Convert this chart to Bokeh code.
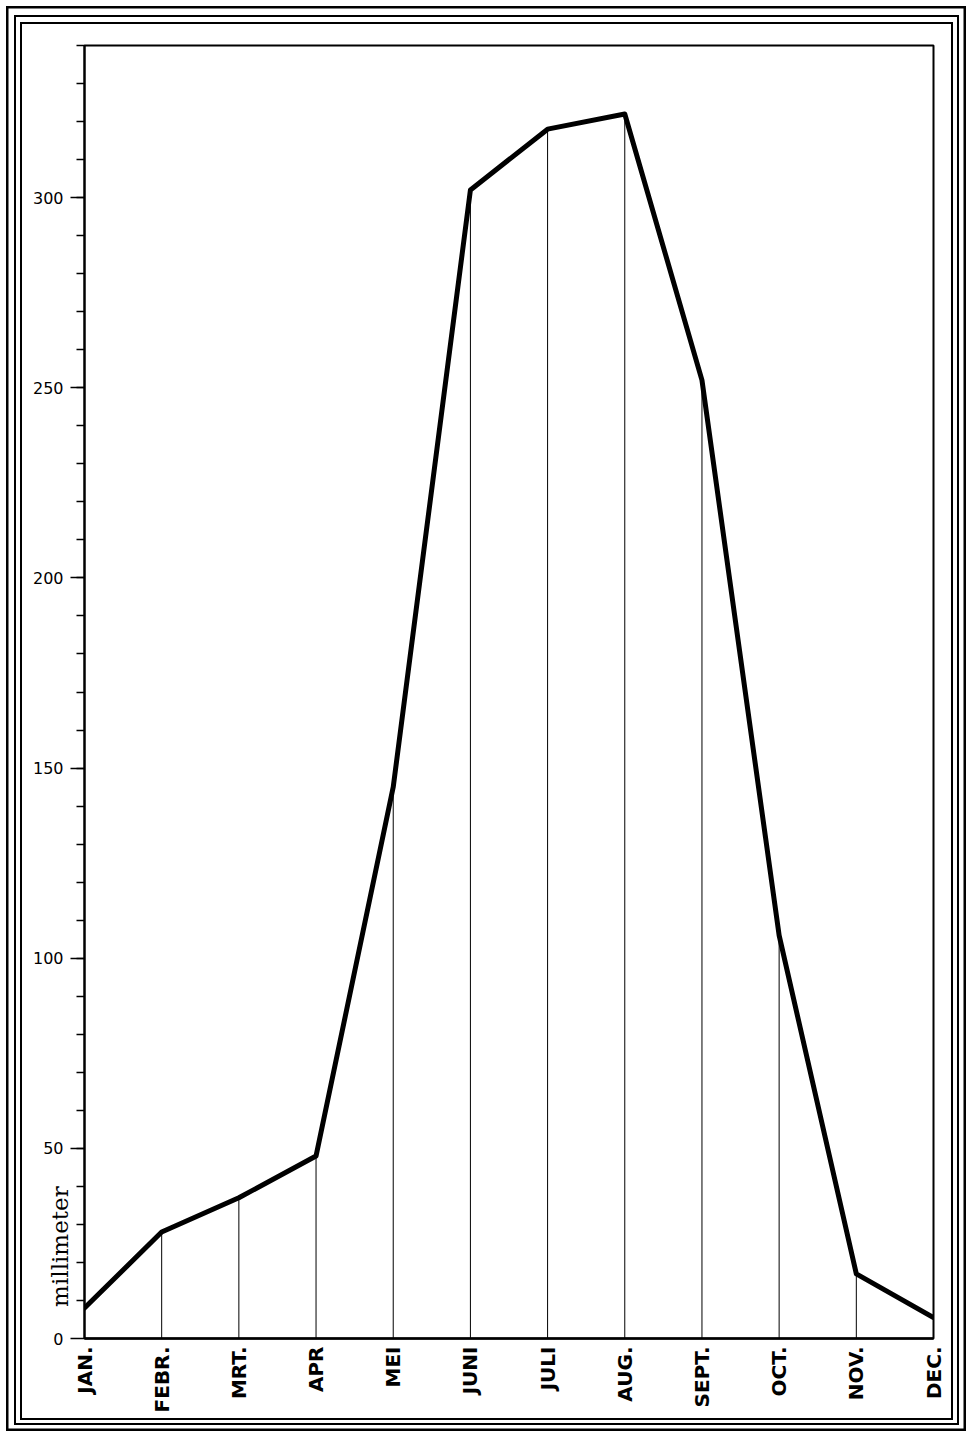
import math
from bokeh.plotting import figure
from bokeh.models import Range1d, FixedTicker, LinearAxis, ColumnDataSource
from bokeh.embed import file_html
from bokeh.resources import INLINE

months = ["JAN.", "FEBR.", "MRT.", "APR", "MEI", "JUNI", "JULI", "AUG.", "SEPT.", "OCT.", "NOV.", "DEC."]
rain_mm = [8, 28, 37, 48, 145, 302, 318, 322, 252, 106, 17, 5.5]
y_major = [0, 50, 100, 150, 200, 250, 300]
y_minor = list(range(10, 341, 10))
unit_label = "millimeter"
unit_label_at = 40

xs = list(range(len(months)))
src = ColumnDataSource(dict(x=xs, y=rain_mm, y0=[0] * len(xs)))

p = figure(frame_width=849, frame_height=1293,
           min_border_left=84, min_border_right=34, min_border_top=45, min_border_bottom=94,
           x_range=Range1d(0, 11), y_range=Range1d(0, 340),
           output_backend="svg", toolbar_location=None, tools="")
p.background_fill_color = "white"
p.border_fill_color = None
p.outline_line_color = "black"
p.outline_line_width = 2
p.xgrid.visible = False
p.ygrid.visible = False

# decorative triple frame around the page (CSS inset shadows on the figure element)
p.styles = {
    "background-color": "white",
    "box-shadow": ("inset 2.5px 2.5px 0 3.5px white, inset 2.5px 2.5px 0 6px black, "
                   "inset 3px 4px 0 11px white, inset 3px 4px 0 13px black, "
                   "inset 3px 5px 0 17px white, inset 3px 5px 0 19px black"),
}

# thin vertical lines from baseline to each month's value
p.segment(x0="x", y0="y0", x1="x", y1="y", source=src, line_color="black", line_width=1)
# main rainfall line
p.line(x="x", y="y", source=src, line_color="black", line_width=5, line_join="round", line_cap="round")

# y axis
ya = p.yaxis[0]
ya.ticker = FixedTicker(ticks=y_major, minor_ticks=y_minor)
ya.major_tick_out = 14
ya.major_tick_in = 0
ya.minor_tick_out = 8
ya.minor_tick_in = 0
ya.major_tick_line_width = 1.5
ya.minor_tick_line_width = 1.5
ya.axis_line_width = 2
ya.major_label_standoff = 7
ya.major_label_text_font = "DejaVu Sans"
ya.major_label_text_font_size = "16px"
ya.major_label_text_color = "black"

# unit label as a second, tickless axis, pulled in next to the main axis
ua = LinearAxis(ticker=FixedTicker(ticks=[unit_label_at], minor_ticks=[]),
                major_label_overrides={unit_label_at: unit_label},
                major_label_orientation=math.pi / 2)
ua.axis_line_color = None
ua.major_tick_line_color = None
ua.minor_tick_line_color = None
ua.major_tick_out = 0
ua.major_tick_in = 0
ua.minor_tick_out = 0
ua.minor_tick_in = 0
ua.major_label_standoff = -31
ua.major_label_text_font = "DejaVu Serif"
ua.major_label_text_font_size = "23px"
ua.major_label_text_color = "black"
p.add_layout(ua, "left")

# x axis
xa = p.xaxis[0]
xa.ticker = FixedTicker(ticks=xs)
xa.major_label_overrides = {i: m for i, m in enumerate(months)}
xa.major_label_orientation = math.pi / 2
xa.major_tick_out = 0
xa.major_tick_in = 0
xa.minor_tick_out = 0
xa.axis_line_width = 2.5
xa.major_label_standoff = 8
xa.major_label_text_font = "DejaVu Sans"
xa.major_label_text_font_style = "bold"
xa.major_label_text_font_size = "20px"
xa.major_label_text_color = "black"

open("out.html", "w").write(file_html(p, INLINE))
